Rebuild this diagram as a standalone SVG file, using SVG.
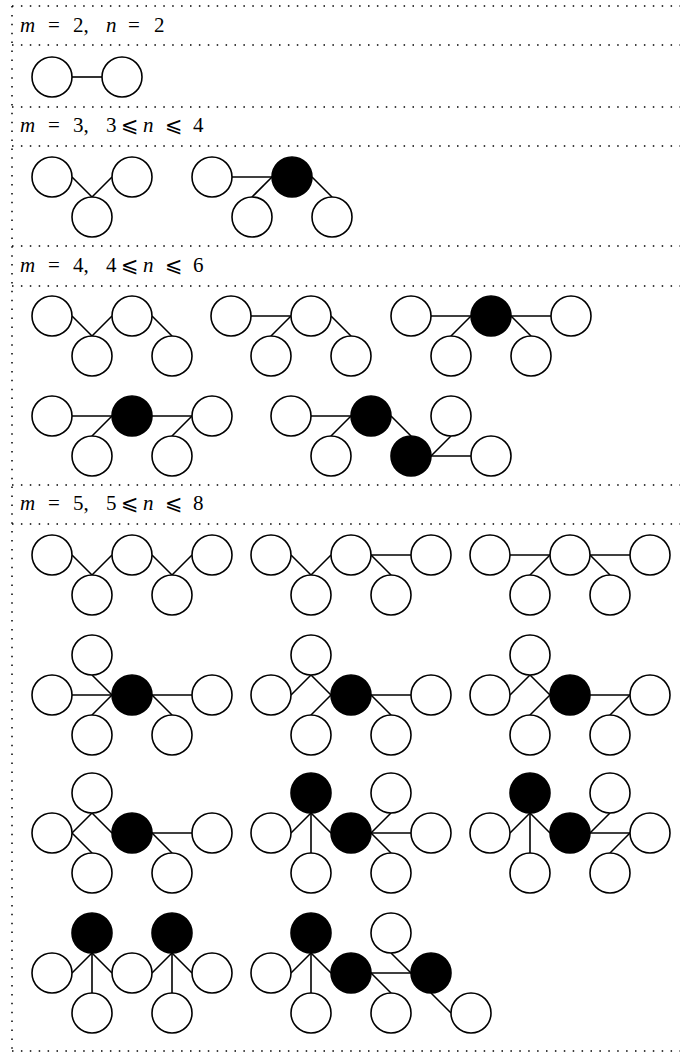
<svg xmlns="http://www.w3.org/2000/svg" width="680" height="1053" viewBox="0 0 680 1053">
<style>
.w{fill:#fff;stroke:#000;stroke-width:1.6}
.b{fill:#000;stroke:#000;stroke-width:1.6}
.e{stroke:#000;stroke-width:1.6;fill:none}
.d{stroke:#000;stroke-width:1.5;stroke-dasharray:1.5 7.4;fill:none}
.i{font-style:italic}
.le{font-family:'DejaVu Serif','DejaVu Sans',serif;font-size:21px}
</style>
<g id="frame">
<line class="d" x1="12" y1="6" x2="690" y2="6"/>
<line class="d" x1="12" y1="45" x2="690" y2="45"/>
<line class="d" x1="12" y1="107" x2="690" y2="107"/>
<line class="d" x1="12" y1="146" x2="690" y2="146"/>
<line class="d" x1="12" y1="246" x2="690" y2="246"/>
<line class="d" x1="12" y1="286" x2="690" y2="286"/>
<line class="d" x1="12" y1="485" x2="690" y2="485"/>
<line class="d" x1="12" y1="524" x2="690" y2="524"/>
<line class="d" x1="12" y1="1051" x2="690" y2="1051"/>
<line class="d" x1="12" y1="6" x2="12" y2="1052"/>
</g>
<g id="headers" font-family="'Liberation Serif', 'DejaVu Serif', serif" font-size="21" fill="#000">
<text y="32"><tspan class="i" x="20">m</tspan><tspan x="48">=</tspan><tspan x="73">2,</tspan><tspan class="i" x="106">n</tspan><tspan x="128">=</tspan><tspan x="154">2</tspan></text>
<text y="132"><tspan class="i" x="20">m</tspan><tspan x="48">=</tspan><tspan x="73">3,</tspan><tspan x="106">3</tspan><tspan class="le" x="121">⩽</tspan><tspan class="i" x="143">n</tspan><tspan class="le" x="165">⩽</tspan><tspan x="193">4</tspan></text>
<text y="272"><tspan class="i" x="20">m</tspan><tspan x="48">=</tspan><tspan x="73">4,</tspan><tspan x="106">4</tspan><tspan class="le" x="121">⩽</tspan><tspan class="i" x="143">n</tspan><tspan class="le" x="165">⩽</tspan><tspan x="193">6</tspan></text>
<text y="510"><tspan class="i" x="20">m</tspan><tspan x="48">=</tspan><tspan x="73">5,</tspan><tspan x="106">5</tspan><tspan class="le" x="121">⩽</tspan><tspan class="i" x="143">n</tspan><tspan class="le" x="165">⩽</tspan><tspan x="193">8</tspan></text>
</g>
<g id="connectors" class="e">
<line x1="72" y1="77" x2="102" y2="77"/>
<line x1="72" y1="177" x2="92" y2="197"/><line x1="92" y1="197" x2="112" y2="177"/>
<line x1="232" y1="177" x2="272" y2="177"/><line x1="272" y1="177" x2="252" y2="197"/><line x1="312" y1="177" x2="332" y2="197"/>
<line x1="72" y1="316" x2="92" y2="336"/><line x1="92" y1="336" x2="112" y2="316"/><line x1="152" y1="316" x2="172" y2="336"/>
<line x1="251" y1="316" x2="291" y2="316"/><line x1="291" y1="316" x2="271" y2="336"/><line x1="331" y1="316" x2="351" y2="336"/>
<line x1="431" y1="316" x2="471" y2="316"/><line x1="511" y1="316" x2="551" y2="316"/><line x1="471" y1="316" x2="451" y2="336"/><line x1="511" y1="316" x2="531" y2="336"/>
<line x1="72" y1="416" x2="112" y2="416"/><line x1="152" y1="416" x2="192" y2="416"/><line x1="112" y1="416" x2="92" y2="436"/><line x1="192" y1="416" x2="172" y2="436"/>
<line x1="311" y1="416" x2="351" y2="416"/><line x1="351" y1="416" x2="331" y2="436"/><line x1="391" y1="416" x2="411" y2="436"/><line x1="431" y1="456" x2="451" y2="436"/><line x1="431" y1="456" x2="471" y2="456"/>
<line x1="72" y1="555" x2="92" y2="575"/><line x1="92" y1="575" x2="112" y2="555"/><line x1="152" y1="555" x2="172" y2="575"/><line x1="172" y1="575" x2="192" y2="555"/>
<line x1="291" y1="555" x2="311" y2="575"/><line x1="311" y1="575" x2="331" y2="555"/><line x1="371" y1="555" x2="411" y2="555"/><line x1="371" y1="555" x2="391" y2="575"/>
<line x1="510" y1="555" x2="550" y2="555"/><line x1="550" y1="555" x2="530" y2="575"/><line x1="590" y1="555" x2="630" y2="555"/><line x1="590" y1="555" x2="610" y2="575"/>
<line x1="72" y1="695" x2="112" y2="695"/><line x1="92" y1="675" x2="112" y2="695"/><line x1="112" y1="695" x2="92" y2="715"/><line x1="152" y1="695" x2="192" y2="695"/><line x1="152" y1="695" x2="172" y2="715"/>
<line x1="291" y1="695" x2="311" y2="675"/><line x1="311" y1="675" x2="331" y2="695"/><line x1="331" y1="695" x2="311" y2="715"/><line x1="371" y1="695" x2="411" y2="695"/><line x1="371" y1="695" x2="391" y2="715"/>
<line x1="510" y1="695" x2="530" y2="675"/><line x1="530" y1="675" x2="550" y2="695"/><line x1="550" y1="695" x2="530" y2="715"/><line x1="590" y1="695" x2="630" y2="695"/><line x1="630" y1="695" x2="610" y2="715"/>
<line x1="72" y1="833" x2="92" y2="813"/><line x1="92" y1="813" x2="112" y2="833"/><line x1="72" y1="833" x2="92" y2="853"/><line x1="152" y1="833" x2="192" y2="833"/><line x1="152" y1="833" x2="172" y2="853"/>
<line x1="291" y1="833" x2="311" y2="813"/><line x1="311" y1="813" x2="311" y2="853"/><line x1="311" y1="813" x2="331" y2="833"/><line x1="371" y1="833" x2="391" y2="813"/><line x1="371" y1="833" x2="411" y2="833"/><line x1="371" y1="833" x2="391" y2="853"/>
<line x1="510" y1="833" x2="530" y2="813"/><line x1="530" y1="813" x2="530" y2="853"/><line x1="530" y1="813" x2="550" y2="833"/><line x1="590" y1="833" x2="610" y2="813"/><line x1="590" y1="833" x2="630" y2="833"/><line x1="630" y1="833" x2="610" y2="853"/>
<line x1="72" y1="973" x2="92" y2="953"/><line x1="92" y1="953" x2="92" y2="993"/><line x1="92" y1="953" x2="112" y2="973"/><line x1="152" y1="973" x2="172" y2="953"/><line x1="172" y1="953" x2="172" y2="993"/><line x1="172" y1="953" x2="192" y2="973"/>
<line x1="291" y1="973" x2="311" y2="953"/><line x1="311" y1="953" x2="311" y2="993"/><line x1="311" y1="953" x2="331" y2="973"/><line x1="371" y1="973" x2="411" y2="973"/><line x1="391" y1="953" x2="411" y2="973"/><line x1="371" y1="973" x2="391" y2="993"/><line x1="431" y1="993" x2="451" y2="1013"/>
</g>
<g id="nodes">
<g id="a1"><circle class="w" cx="52" cy="77" r="20"/></g>
<g id="a2"><circle class="w" cx="122" cy="77" r="20"/></g>
<g id="b1"><circle class="w" cx="52" cy="177" r="20"/></g>
<g id="b2"><circle class="w" cx="92" cy="217" r="20"/></g>
<g id="b3"><circle class="w" cx="132" cy="177" r="20"/></g>
<g id="b4"><circle class="w" cx="212" cy="177" r="20"/></g>
<g id="b5"><circle class="b" cx="292" cy="177" r="20"/></g>
<g id="b6"><circle class="w" cx="252" cy="217" r="20"/></g>
<g id="b7"><circle class="w" cx="332" cy="217" r="20"/></g>
<g id="c1"><circle class="w" cx="52" cy="316" r="20"/></g>
<g id="c2"><circle class="w" cx="92" cy="356" r="20"/></g>
<g id="c3"><circle class="w" cx="132" cy="316" r="20"/></g>
<g id="c4"><circle class="w" cx="172" cy="356" r="20"/></g>
<g id="c5"><circle class="w" cx="231" cy="316" r="20"/></g>
<g id="c6"><circle class="w" cx="271" cy="356" r="20"/></g>
<g id="c7"><circle class="w" cx="311" cy="316" r="20"/></g>
<g id="c8"><circle class="w" cx="351" cy="356" r="20"/></g>
<g id="c9"><circle class="w" cx="411" cy="316" r="20"/></g>
<g id="c10"><circle class="b" cx="491" cy="316" r="20"/></g>
<g id="c11"><circle class="w" cx="571" cy="316" r="20"/></g>
<g id="c12"><circle class="w" cx="451" cy="356" r="20"/></g>
<g id="c13"><circle class="w" cx="531" cy="356" r="20"/></g>
<g id="c14"><circle class="w" cx="52" cy="416" r="20"/></g>
<g id="c15"><circle class="b" cx="132" cy="416" r="20"/></g>
<g id="c16"><circle class="w" cx="212" cy="416" r="20"/></g>
<g id="c17"><circle class="w" cx="92" cy="456" r="20"/></g>
<g id="c18"><circle class="w" cx="172" cy="456" r="20"/></g>
<g id="c19"><circle class="w" cx="291" cy="416" r="20"/></g>
<g id="c20"><circle class="b" cx="371" cy="416" r="20"/></g>
<g id="c21"><circle class="w" cx="331" cy="456" r="20"/></g>
<g id="c22"><circle class="b" cx="411" cy="456" r="20"/></g>
<g id="c23"><circle class="w" cx="451" cy="416" r="20"/></g>
<g id="c24"><circle class="w" cx="491" cy="456" r="20"/></g>
<g id="d1"><circle class="w" cx="52" cy="555" r="20"/></g>
<g id="d2"><circle class="w" cx="92" cy="595" r="20"/></g>
<g id="d3"><circle class="w" cx="132" cy="555" r="20"/></g>
<g id="d4"><circle class="w" cx="172" cy="595" r="20"/></g>
<g id="d5"><circle class="w" cx="212" cy="555" r="20"/></g>
<g id="d6"><circle class="w" cx="271" cy="555" r="20"/></g>
<g id="d7"><circle class="w" cx="311" cy="595" r="20"/></g>
<g id="d8"><circle class="w" cx="351" cy="555" r="20"/></g>
<g id="d9"><circle class="w" cx="391" cy="595" r="20"/></g>
<g id="d10"><circle class="w" cx="431" cy="555" r="20"/></g>
<g id="d11"><circle class="w" cx="490" cy="555" r="20"/></g>
<g id="d12"><circle class="w" cx="570" cy="555" r="20"/></g>
<g id="d13"><circle class="w" cx="650" cy="555" r="20"/></g>
<g id="d14"><circle class="w" cx="530" cy="595" r="20"/></g>
<g id="d15"><circle class="w" cx="610" cy="595" r="20"/></g>
<g id="e1"><circle class="w" cx="92" cy="655" r="20"/></g>
<g id="e2"><circle class="w" cx="52" cy="695" r="20"/></g>
<g id="e3"><circle class="b" cx="132" cy="695" r="20"/></g>
<g id="e4"><circle class="w" cx="212" cy="695" r="20"/></g>
<g id="e5"><circle class="w" cx="92" cy="735" r="20"/></g>
<g id="e6"><circle class="w" cx="172" cy="735" r="20"/></g>
<g id="e7"><circle class="w" cx="311" cy="655" r="20"/></g>
<g id="e8"><circle class="w" cx="271" cy="695" r="20"/></g>
<g id="e9"><circle class="b" cx="351" cy="695" r="20"/></g>
<g id="e10"><circle class="w" cx="431" cy="695" r="20"/></g>
<g id="e11"><circle class="w" cx="311" cy="735" r="20"/></g>
<g id="e12"><circle class="w" cx="391" cy="735" r="20"/></g>
<g id="e13"><circle class="w" cx="530" cy="655" r="20"/></g>
<g id="e14"><circle class="w" cx="490" cy="695" r="20"/></g>
<g id="e15"><circle class="b" cx="570" cy="695" r="20"/></g>
<g id="e16"><circle class="w" cx="650" cy="695" r="20"/></g>
<g id="e17"><circle class="w" cx="530" cy="735" r="20"/></g>
<g id="e18"><circle class="w" cx="610" cy="735" r="20"/></g>
<g id="f1"><circle class="w" cx="92" cy="793" r="20"/></g>
<g id="f2"><circle class="w" cx="52" cy="833" r="20"/></g>
<g id="f3"><circle class="b" cx="132" cy="833" r="20"/></g>
<g id="f4"><circle class="w" cx="212" cy="833" r="20"/></g>
<g id="f5"><circle class="w" cx="92" cy="873" r="20"/></g>
<g id="f6"><circle class="w" cx="172" cy="873" r="20"/></g>
<g id="f7"><circle class="b" cx="311" cy="793" r="20"/></g>
<g id="f8"><circle class="w" cx="271" cy="833" r="20"/></g>
<g id="f9"><circle class="b" cx="351" cy="833" r="20"/></g>
<g id="f10"><circle class="w" cx="391" cy="793" r="20"/></g>
<g id="f11"><circle class="w" cx="431" cy="833" r="20"/></g>
<g id="f12"><circle class="w" cx="311" cy="873" r="20"/></g>
<g id="f13"><circle class="w" cx="391" cy="873" r="20"/></g>
<g id="f14"><circle class="b" cx="530" cy="793" r="20"/></g>
<g id="f15"><circle class="w" cx="490" cy="833" r="20"/></g>
<g id="f16"><circle class="b" cx="570" cy="833" r="20"/></g>
<g id="f17"><circle class="w" cx="610" cy="793" r="20"/></g>
<g id="f18"><circle class="w" cx="650" cy="833" r="20"/></g>
<g id="f19"><circle class="w" cx="530" cy="873" r="20"/></g>
<g id="f20"><circle class="w" cx="610" cy="873" r="20"/></g>
<g id="h1"><circle class="b" cx="92" cy="933" r="20"/></g>
<g id="h2"><circle class="b" cx="172" cy="933" r="20"/></g>
<g id="h3"><circle class="w" cx="52" cy="973" r="20"/></g>
<g id="h4"><circle class="w" cx="132" cy="973" r="20"/></g>
<g id="h5"><circle class="w" cx="212" cy="973" r="20"/></g>
<g id="h6"><circle class="w" cx="92" cy="1013" r="20"/></g>
<g id="h7"><circle class="w" cx="172" cy="1013" r="20"/></g>
<g id="h8"><circle class="b" cx="311" cy="933" r="20"/></g>
<g id="h9"><circle class="w" cx="271" cy="973" r="20"/></g>
<g id="h10"><circle class="b" cx="351" cy="973" r="20"/></g>
<g id="h11"><circle class="w" cx="391" cy="933" r="20"/></g>
<g id="h12"><circle class="b" cx="431" cy="973" r="20"/></g>
<g id="h13"><circle class="w" cx="311" cy="1013" r="20"/></g>
<g id="h14"><circle class="w" cx="391" cy="1013" r="20"/></g>
<g id="h15"><circle class="w" cx="471" cy="1013" r="20"/></g>
</g>
</svg>
